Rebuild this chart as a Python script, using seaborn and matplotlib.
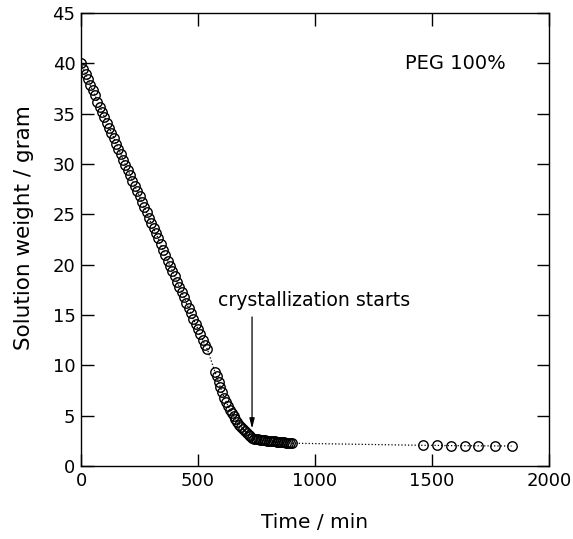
import matplotlib
matplotlib.use("Agg")
import matplotlib.pyplot as plt
import seaborn as sns
import pandas as pd

# --- data ---
time_min = [
    0, 10, 20, 30, 40, 50, 60, 70, 80, 90,
    100, 110, 120, 130, 140, 150, 160, 170, 180, 190,
    200, 210, 220, 230, 240, 250, 260, 270, 280, 290,
    300, 310, 320, 330, 340, 350, 360, 370, 380, 390,
    400, 410, 420, 430, 440, 450, 460, 470, 480, 490,
    500, 510, 520, 530, 540,
    573, 580, 588, 596, 604, 612, 620, 628, 636, 644,
    652, 660, 668, 676, 684, 692, 700, 708, 716, 724,
    732, 740, 748, 756, 764, 772, 780, 788, 796, 804,
    812, 820, 828, 836, 844, 852, 860, 868, 876, 884,
    892, 900,
    1463, 1523, 1580, 1641, 1698, 1769, 1840,
]
weight_g = [
    40.0, 39.4, 38.9, 38.4, 37.8, 37.3, 36.8, 36.2, 35.7, 35.2,
    34.7, 34.1, 33.6, 33.1, 32.6, 32.0, 31.5, 31.0, 30.4, 29.9,
    29.4, 28.9, 28.3, 27.8, 27.3, 26.8, 26.2, 25.7, 25.2, 24.6,
    24.1, 23.6, 23.1, 22.6, 22.0, 21.5, 21.0, 20.4, 19.9, 19.4,
    18.9, 18.3, 17.8, 17.3, 16.8, 16.2, 15.7, 15.2, 14.6, 14.1,
    13.6, 13.1, 12.5, 12.0, 11.6,
    9.3, 8.9, 8.3, 7.8, 7.3, 6.8, 6.4, 6.0, 5.6, 5.3,
    5.0, 4.7, 4.4, 4.1, 3.9, 3.7, 3.5, 3.3, 3.1, 2.95,
    2.8, 2.72, 2.68, 2.65, 2.62, 2.6, 2.57, 2.55, 2.52, 2.5,
    2.48, 2.46, 2.44, 2.42, 2.4, 2.38, 2.36, 2.34, 2.32, 2.3,
    2.28, 2.26,
    2.05, 2.04, 2.02, 2.01, 2.0, 1.99, 1.98,
]
x_ticks = [0, 500, 1000, 1500, 2000]
y_ticks = [0, 5, 10, 15, 20, 25, 30, 35, 40, 45]

df = pd.DataFrame({"Time / min": time_min, "Solution weight / gram": weight_g})

sns.set_style("ticks")
plt.rcParams["font.family"] = ["DejaVu Sans"]
for k in ["text.color", "axes.labelcolor", "xtick.color", "ytick.color",
          "axes.edgecolor"]:
    plt.rcParams[k] = "black"

fig = plt.figure(figsize=(5.73, 5.39), dpi=100)
ax = fig.add_axes([0.1414, 0.1355, 0.8166, 0.8405])

sns.lineplot(data=df, x="Time / min", y="Solution weight / gram", ax=ax,
             estimator=None, sort=False, color="black", linestyle=":",
             linewidth=0.9, marker="o", markersize=6.8,
             markerfacecolor="none", markeredgecolor="black",
             markeredgewidth=1.0)

ax.set_xlim(0, 2000)
ax.set_ylim(0, 45)
ax.set_xticks(x_ticks)
ax.set_yticks(y_ticks)
ax.tick_params(direction="in", length=9, width=1, top=True, right=True,
               labelsize=13, pad=4)
for s in ax.spines.values():
    s.set_linewidth(1)
ax.set_xlabel("Time / min", fontsize=14.5, labelpad=17)
ax.set_ylabel("Solution weight / gram", fontsize=15.5)
ax.yaxis.set_label_coords(-0.10, 0.527)

ax.text(1600, 40, "PEG 100%", fontsize=14, ha="center", va="center")
ax.text(995, 16.4, "crystallization starts", fontsize=13.6, ha="center",
        va="center")
ax.annotate("", xy=(731, 3.7), xytext=(731, 14.8),
            arrowprops=dict(arrowstyle="-|>,head_length=0.6,head_width=0.15",
                            color="black", lw=0.9, shrinkA=0, shrinkB=0))

fig.savefig("out.png", dpi=100)
